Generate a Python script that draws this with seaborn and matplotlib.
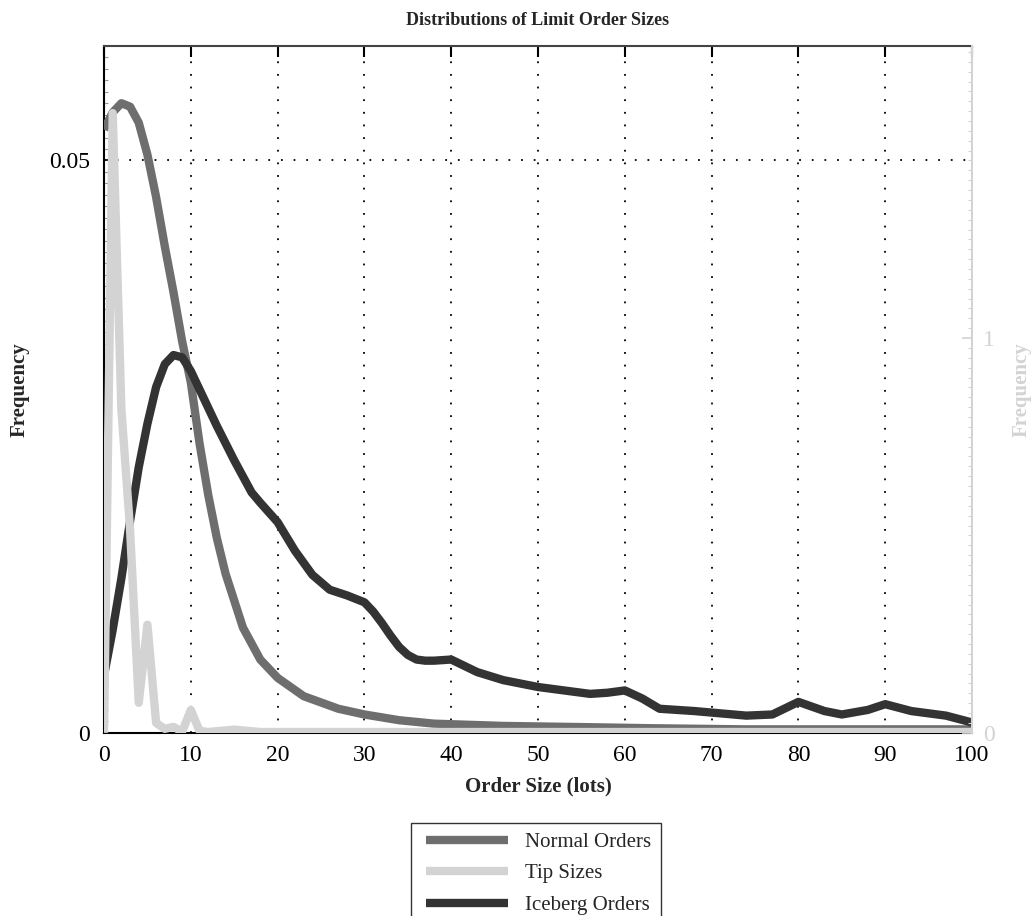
import numpy as np
import pandas as pd
import seaborn as sns
import matplotlib.pyplot as plt
from matplotlib.ticker import MultipleLocator, FixedLocator
from matplotlib.legend_handler import HandlerLine2D

# values (density per lot size)
normal_x = [0, 1, 2, 3, 4, 5, 6, 7, 8, 9, 10, 11, 12, 13, 14, 16, 18, 20, 23, 27,
            30, 34, 38, 46, 55, 63, 74, 87, 100]
normal_y = [0.0527, 0.0542, 0.0550, 0.0547, 0.0533, 0.0505, 0.0468, 0.0425, 0.0385,
            0.0342, 0.0306, 0.0253, 0.0208, 0.0170, 0.0139, 0.0092, 0.0064, 0.0048,
            0.0032, 0.0021, 0.0016, 0.0011, 0.0008, 0.0006, 0.0005, 0.0004, 0.0003,
            0.0003, 0.0003]

iceberg_x = [0, 1, 2, 3, 4, 5, 6, 7, 8, 9, 10, 11, 13, 15, 17, 18, 20, 22, 24, 26,
             28, 30, 31, 32, 33, 34, 35, 36, 37, 38, 40, 43, 46, 50, 56, 58, 60, 62,
             64, 68, 74, 77, 80, 83, 85, 88, 90, 93, 97, 100]
iceberg_y = [0.0050, 0.0090, 0.0135, 0.0185, 0.0232, 0.0270, 0.0302, 0.0322, 0.0330,
             0.0328, 0.0316, 0.0300, 0.0268, 0.0238, 0.0210, 0.0201, 0.0184, 0.0159,
             0.0138, 0.0125, 0.0120, 0.0114, 0.0106, 0.0096, 0.0085, 0.0075, 0.0068,
             0.0064, 0.0063, 0.0063, 0.0064, 0.0053, 0.0046, 0.0040, 0.0034, 0.0035,
             0.0037, 0.0030, 0.0021, 0.0019, 0.0015, 0.0016, 0.0027, 0.0019, 0.0016,
             0.0020, 0.0025, 0.0019, 0.0015, 0.0009]

# tip sizes are on the right hand axis
tip_x = [0, 1, 2, 3, 4, 5, 6, 7, 8, 9, 10, 11, 12, 15, 18, 100]
tip_y = [0.0, 1.57, 0.82, 0.515, 0.076, 0.274, 0.025, 0.010, 0.015, 0.003, 0.058,
         0.005, 0.002, 0.008, 0.002, 0.002]

x_ticks = list(range(0, 101, 10))
grid_x = list(range(10, 100, 10))

c_normal = "#6e6e6e"
c_tip = "#d3d3d3"
c_ice = "#333333"

sns.set_theme(style="white")
plt.rcParams["font.family"] = ["Liberation Serif", "DejaVu Serif"]

fig = plt.figure(figsize=(10.31, 9.16), dpi=100)
ax = fig.add_axes([0.1009, 0.2, 0.8419, 0.7498])
ax2 = ax.twinx()

lw = 6
line_kw = dict(lw=lw, solid_joinstyle="round", solid_capstyle="butt")
sns.lineplot(x=normal_x, y=normal_y, ax=ax, color=c_normal,
             label="Normal Orders", zorder=3, **line_kw)
sns.lineplot(x=iceberg_x, y=iceberg_y, ax=ax, color=c_ice,
             label="Iceberg Orders", zorder=3, **line_kw)
sns.lineplot(x=tip_x, y=tip_y, ax=ax2, color=c_tip,
             label="Tip Sizes", zorder=2, **line_kw)

for a in (ax, ax2):
    if a.get_legend() is not None:
        a.get_legend().remove()

ax.set_xlim(0, 100)
ax.set_ylim(0, 0.06)
ax2.set_ylim(0, 1.74)

# dotted grid
for gx in grid_x:
    ax.axvline(gx, color="black", lw=1.3, ls=(0, (1, 6)), zorder=1)
ax.axhline(0.05, color="black", lw=1.3, ls=(0, (1, 6)), zorder=1)

ax.xaxis.set_major_locator(FixedLocator(x_ticks))
ax.xaxis.set_minor_locator(MultipleLocator(1.25))
ax.set_yticks([0, 0.05])
ax.set_yticklabels(["0", "0.05"])
ax.yaxis.set_minor_locator(MultipleLocator(0.001))
ax.tick_params(axis="both", which="both", direction="in", labelsize=17,
               colors="black")
ax.tick_params(axis="x", which="major", length=8, width=1.5, top=True, pad=9)
ax.tick_params(axis="x", which="minor", length=3, width=0.8, top=False, color="#999999")
ax.tick_params(axis="y", which="major", length=6, width=1.2, pad=10, right=False)
ax.tick_params(axis="y", which="minor", length=3, width=0.8, color="#999999", right=False)

ax2.set_yticks([0, 1])
ax2.set_yticklabels(["0", "1"])
ax2.yaxis.set_minor_locator(MultipleLocator(0.025))
ax2.tick_params(axis="y", which="both", direction="in", labelsize=17,
                colors=c_tip, pad=8)
ax2.tick_params(axis="y", which="major", length=7, width=1.2)
ax2.tick_params(axis="y", which="minor", length=3, width=0.8)

for s in ["left", "bottom"]:
    ax.spines[s].set_color("black")
    ax.spines[s].set_linewidth(1.5)
ax.spines["top"].set_color("#444444")
ax.spines["top"].set_linewidth(1.5)
ax.spines["right"].set_visible(False)
for s in ["left", "top", "bottom"]:
    ax2.spines[s].set_visible(False)
ax2.spines["right"].set_color(c_tip)
ax2.spines["right"].set_linewidth(1.5)

ax.set_xlabel("Order Size (lots)", fontsize=15, fontweight="bold", labelpad=7)
ax.set_ylabel("Frequency", fontsize=15, fontweight="bold", labelpad=14)
ax2.set_ylabel("Frequency", fontsize=15, fontweight="bold", color=c_tip, labelpad=12)
ax.set_title("Distributions of Limit Order Sizes", fontsize=13, fontweight="bold", pad=15)

h1, l1 = ax.get_legend_handles_labels()
h2, l2 = ax2.get_legend_handles_labels()
handles = {**dict(zip(l1, h1)), **dict(zip(l2, h2))}
order = ["Normal Orders", "Tip Sizes", "Iceberg Orders"]
leg = fig.legend([handles[k] for k in order], order, loc="upper center",
                 bbox_to_anchor=(0.5197, 0.1015), bbox_transform=fig.transFigure,
                 fontsize=15, frameon=True, fancybox=False, framealpha=1,
                 edgecolor="#333333", handlelength=4.2, handletextpad=0.82,
                 labelspacing=0.57, borderpad=0.45, borderaxespad=0,
                 handler_map={h: HandlerLine2D(xpad=0.27) for h in handles.values()})
leg.get_frame().set_linewidth(1.0)
for line in leg.get_lines():
    line.set_solid_capstyle("butt")

fig.savefig("out.png", dpi=100)
